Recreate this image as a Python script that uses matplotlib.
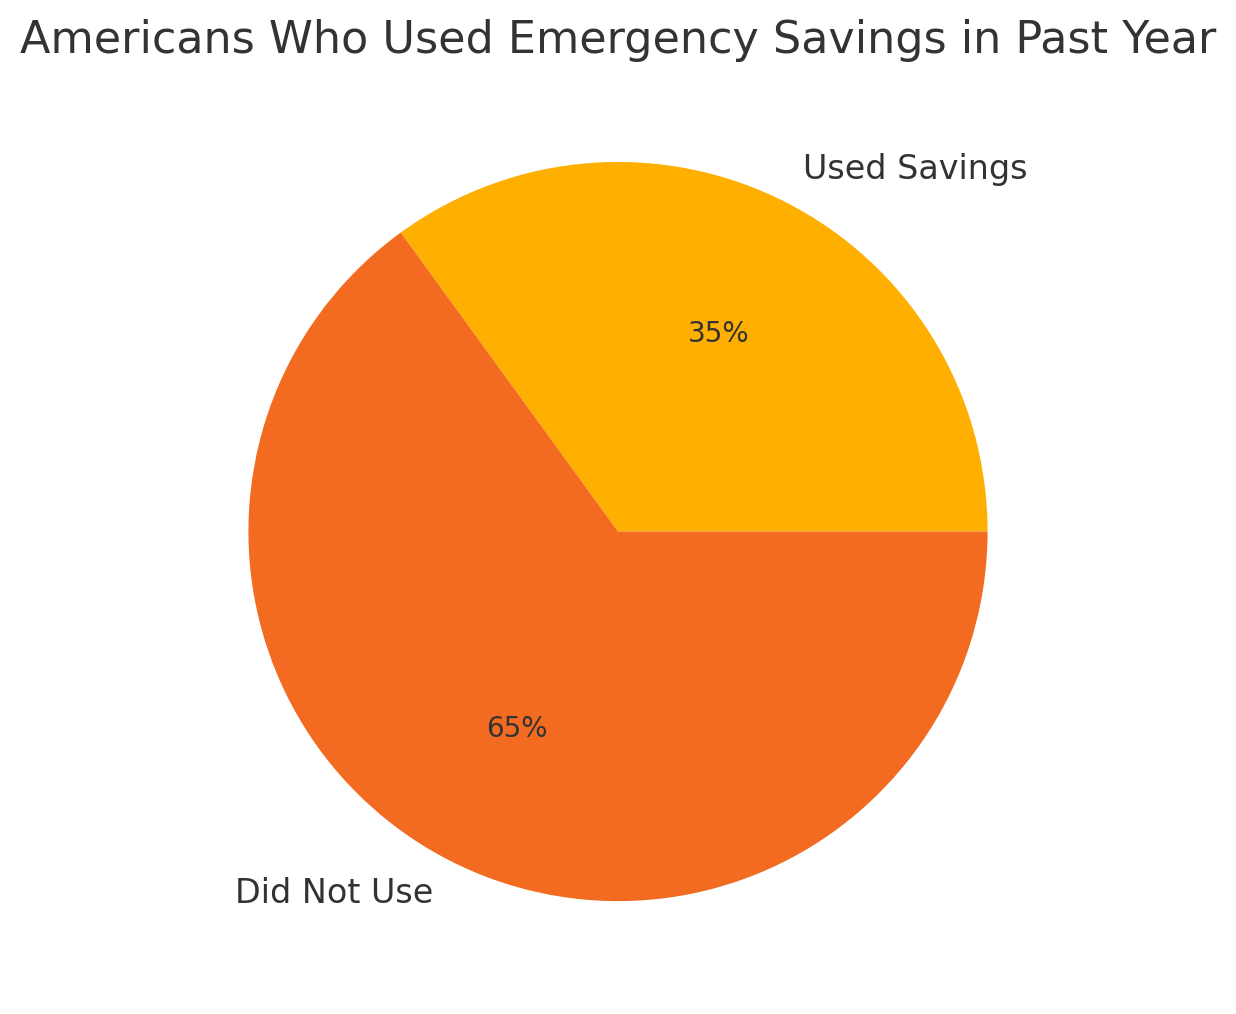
import matplotlib
matplotlib.use("Agg")
import matplotlib.pyplot as plt

labels = ["Used Savings", "Did Not Use"]
values = [35, 65]
colors = ["#FFAF00", "#F26B21"]

plt.rcParams['font.family'] = ['DejaVu Sans']
fig, ax = plt.subplots(figsize=(6.18, 5.07), dpi=200)
wedges, texts, autotexts = ax.pie(values, labels=labels, colors=colors, autopct='%1.0f%%',
                                  startangle=0, textprops={'color': '#333333', 'fontsize': 12},
                                  labeldistance=1.1, pctdistance=0.6)
for t in autotexts:
    t.set_fontsize(10)
    t.set_color('#333333')
ax.set_title("Americans Who Used Emergency Savings in Past Year", fontsize=16, color='#333333')
ax.set_aspect('equal')
fig.subplots_adjust(left=0.02, right=0.98, top=0.9314, bottom=0.0202)
fig.savefig("out.png", dpi=200)
